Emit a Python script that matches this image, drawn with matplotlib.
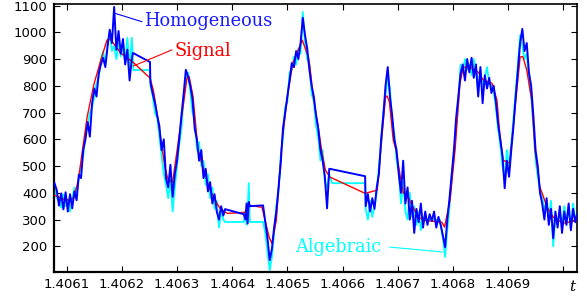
import numpy as np
import matplotlib
matplotlib.use("Agg")
import matplotlib.pyplot as plt

plt.rcParams['font.family'] = ['DejaVu Sans']

T0 = 1.406      # time origin
US = 1e-6       # offsets below are in units of 1e-6

# ---------------- Signal (red) ----------------
sig_k = [78, 92, 106, 113, 121, 137, 149, 162, 173, 179, 198, 221, 251, 257, 260, 269, 278, 284,
         292, 306, 318, 322, 329, 338, 347, 360, 369, 378, 391, 423, 431, 454, 467, 472, 480, 490,
         501, 510, 527, 538, 541, 547, 556, 563, 569, 577, 641, 663, 672, 678, 681, 685, 692, 697,
         704, 710, 719, 737, 750, 780, 785, 795, 804, 813, 819, 835, 846, 855, 871, 880, 885, 891,
         903, 913, 922, 927, 934, 943, 949, 958, 971, 982, 1000, 1025]
sig_v = [391, 378, 372, 383, 447, 683, 803, 897, 971, 975, 922, 887, 829, 784, 747, 623, 496, 447,
         440, 646, 829, 835, 760, 560, 496, 410, 372, 342, 323, 327, 353, 346, 234, 211, 297, 586,
         773, 885, 971, 909, 870, 758, 646, 548, 485, 459, 398, 410, 623, 758, 762, 740, 597, 560,
         470, 400, 384, 309, 297, 290, 272, 372, 560, 810, 870, 866, 851, 822, 810, 747, 623, 522,
         511, 720, 908, 909, 859, 747, 560, 421, 346, 309, 286, 297]

# ---------------- Homogeneous (blue) ----------------
blueA = [435, 410, 352, 398, 338, 402, 330, 395, 342, 405, 372, 468, 455, 560, 600, 665, 610, 735,
         790, 760, 845, 880, 905, 870, 945, 1010, 960, 1095, 935, 1005, 920, 975, 880, 935, 820, 900]
blue_br1_k = [220, 251, 251.5]
blue_br1_v = [923, 889, 825]
blueB = [810, 770, 735, 690, 650, 560, 600, 455, 420, 505, 385, 470, 520, 600, 690, 770, 860, 835,
         800, 750, 640, 600, 520, 560, 455, 490, 405, 440, 360, 395, 330, 300, 350, 315]
blue_br2_k = [387, 421, 424, 426, 428, 430, 432]
blue_br2_v = [339, 320, 300, 360, 285, 366, 350]
blueD = [353, 290, 230, 148, 190, 270, 330, 420, 510, 640, 700, 760, 820, 885, 870, 930, 900, 960,
         1054, 990, 940, 860, 800, 760, 690, 640, 560, 520, 460, 342, 490]
blue_br4_k = [581, 641, 641.5]
blue_br4_v = [488, 462, 398]
blueE = [350, 395, 330, 380, 340, 420, 470, 600, 690, 800, 870, 760, 690, 600, 560, 470, 400, 520,
         360, 420, 300, 370, 250, 340, 290, 360, 270, 330, 280, 320, 295, 330, 270, 310, 280, 240,
         197, 300, 380, 470, 560, 680, 760, 845, 880, 820, 900, 850, 905, 830, 880, 760, 870, 735,
         840, 790, 830, 773, 800, 740, 660, 600, 540, 417, 520, 460, 560, 650, 760, 860, 960, 1013,
         930, 960, 850, 800, 690, 560, 500, 400, 360, 300, 380, 280, 340, 230, 330, 270, 350, 250,
         330, 280, 360, 260, 340, 290]
blue_end_k = [1025]
blue_end_v = [320]

# ---------------- Algebraic (cyan) ----------------
cyanA = [420, 380, 370, 345, 395, 350, 375, 330, 380, 420, 400, 455, 500, 540, 620, 650, 700, 720,
         760, 810, 830, 900, 930, 880, 960, 1000, 930, 950, 900, 960, 910, 940, 890, 980, 860, 980]
cyan_br1_k = [221, 251]
cyan_br1_v = [859, 859]
cyanB = [800, 760, 700, 680, 610, 540, 470, 430, 380, 450, 330, 420, 500, 580, 640, 760, 820, 850,
         780, 700, 680, 560, 590, 500, 520, 430, 470, 380, 420, 340, 370, 270, 330, 300]
cyan_br2_k = [387, 421, 424, 426, 428, 430, 432]
cyan_br2_v = [291, 291, 330, 280, 320, 436, 291]
cyanD = [291, 250, 180, 110, 160, 250, 350, 400, 540, 600, 720, 740, 850, 860, 910, 880, 940, 920,
         1076, 960, 900, 880, 770, 740, 650, 608, 520, 560, 440, 420, 470]
cyan_br4_k = [581, 641]
cyan_br4_v = [436, 436]
cyanE1 = [340, 300, 370, 310, 350, 400, 500, 580, 700, 760, 840, 790, 660, 620, 520, 480, 360, 440,
          330, 300, 400, 310, 350, 280, 330, 260, 310, 300]
cyan_br5_k = [776]
cyan_br5_v = [300]
cyanE2 = [280, 230, 160, 260, 350, 460, 540, 650, 740, 880, 850, 900, 860, 880, 840, 900, 850, 780,
          860, 800, 830, 870, 810, 800, 780, 720, 640, 580, 500, 450, 560, 500, 590, 680, 780, 880,
          990, 950, 900, 920, 820, 760, 650, 520, 460, 410, 380, 340, 360, 300, 370, 200, 310, 290,
          330, 280, 350, 300, 330, 270, 360, 300]
cyan_end_k = [1025]
cyan_end_v = [310]

x_ticks = [1.4061, 1.4062, 1.4063, 1.4064, 1.4065, 1.4066, 1.4067, 1.4068, 1.4069, 1.4070]
x_labels = ['1.4061', '1.4062', '1.4063', '1.4064', '1.4065', '1.4066', '1.4067', '1.4068', '1.4069', '']
y_ticks = [200, 300, 400, 500, 600, 700, 800, 900, 1000, 1100]

# sampling grids of the noisy segments
gA = np.arange(78, 219, 4)
gB = np.arange(252, 385, 4)
gD = np.arange(456, 577, 4)
gE = np.arange(642, 1023, 4)
gE1 = np.arange(642, 751, 4)
gE2 = np.arange(778, 1023, 4)

blue_k = np.concatenate([gA, blue_br1_k, gB, blue_br2_k, gD, blue_br4_k, gE, blue_end_k])
blue_v = np.concatenate([blueA, blue_br1_v, blueB, blue_br2_v, blueD, blue_br4_v, blueE, blue_end_v])
cyan_k = np.concatenate([gA, cyan_br1_k, gB, cyan_br2_k, gD, cyan_br4_k, gE1, cyan_br5_k, gE2, cyan_end_k])
cyan_v = np.concatenate([cyanA, cyan_br1_v, cyanB, cyan_br2_v, cyanD, cyan_br4_v, cyanE1, cyan_br5_v, cyanE2, cyan_end_v])

def tt(k):
    return T0 + np.asarray(k, dtype=float) * US

fig = plt.figure(figsize=(5.87, 2.97), dpi=100)
ax = fig.add_axes([0.0925, 0.0842, 0.891, 0.9024])

ax.plot(tt(cyan_k), cyan_v, color='#00ffff', lw=1.3, zorder=2)
ax.plot(tt(sig_k), sig_v, color='#ff0000', lw=1.0, zorder=3)
ax.plot(tt(blue_k), blue_v, color='#0000ff', lw=1.4, zorder=4)

# annotations
ax.plot(tt([187.6, 236]), [1071, 1040], color='#0000ff', lw=0.8, zorder=5)
ax.text(tt(240), 1022, 'Homogeneous', color='#1a1aff', family='DejaVu Serif', fontsize=12.8,
        ha='left', va='baseline', zorder=6)
ax.plot(tt([290.4, 220.7]), [934, 874], color='#ff0000', lw=0.8, zorder=5)
ax.text(tt(296), 912, 'Signal', color='#ff0000', family='DejaVu Serif', fontsize=12.8,
        ha='left', va='baseline', zorder=6)
ax.plot(tt([686, 780.5]), [197, 179], color='#00ffff', lw=0.8, zorder=5)
ax.text(tt(514), 178, 'Algebraic', color='#00ffff', family='DejaVu Serif', fontsize=12.8,
        ha='left', va='baseline', zorder=6)

ax.set_xlim(tt(77.5), tt(1025.7))
ax.set_ylim(104, 1106)
ax.set_xticks(x_ticks)
ax.set_xticklabels(x_labels)
ax.set_yticks(y_ticks)
ax.tick_params(direction='in', top=True, right=True, length=4, width=0.8, labelsize=9.5)
ax.tick_params(axis='x', pad=4)
ax.tick_params(axis='y', pad=5)
for s in ax.spines.values():
    s.set_linewidth(1.2)
ax.spines['left'].set_linewidth(1.6)
ax.spines['bottom'].set_linewidth(1.6)

ax.text(0.99, -0.03, 't', transform=ax.transAxes, family='DejaVu Serif', style='italic',
        fontsize=11, ha='center', va='top')

fig.savefig('out.png', dpi=100)
